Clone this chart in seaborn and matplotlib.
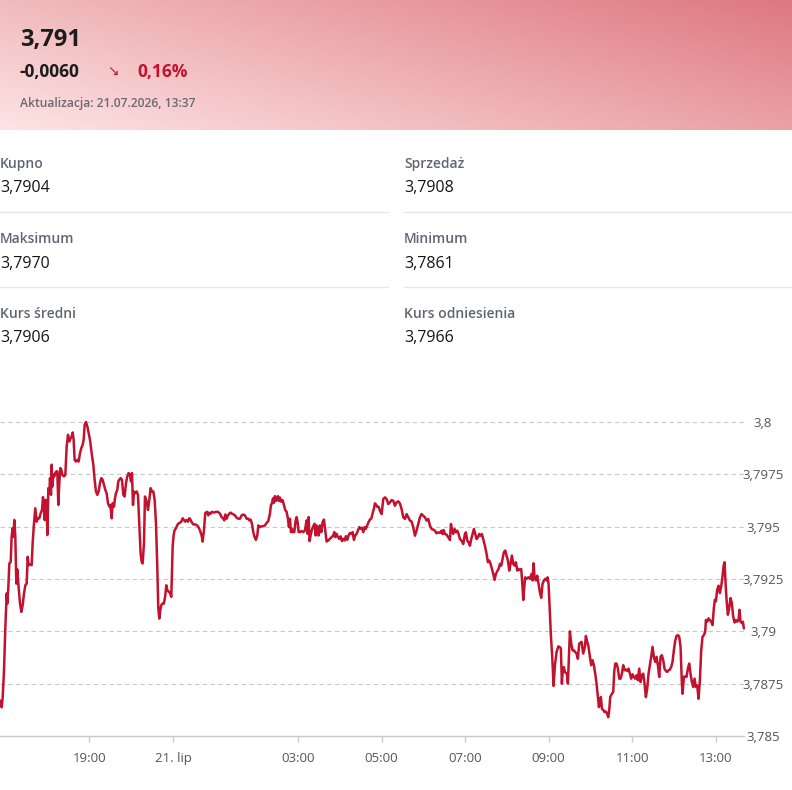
import numpy as np
import matplotlib
matplotlib.use("Agg")
import matplotlib.pyplot as plt
from matplotlib.lines import Line2D
from matplotlib.ticker import FuncFormatter
import seaborn as sns

# chart time axis, in hours on the chart scale (0 = "21. lip")
hours = [
    -4.144, -4.104, -4.080, -4.048, -4.016, -3.984, -3.968, -3.944, -3.920, -3.888, -3.865, -3.841,
    -3.825, -3.801, -3.777, -3.753, -3.729, -3.705, -3.665, -3.633, -3.601, -3.569, -3.537, -3.505,
    -3.481, -3.457, -3.425, -3.386, -3.362, -3.330, -3.298, -3.266, -3.234, -3.202, -3.170, -3.138,
    -3.114, -3.090, -3.074, -3.050, -3.026, -3.010, -2.986, -2.962, -2.946, -2.922, -2.906, -2.890,
    -2.867, -2.843, -2.819, -2.795, -2.771, -2.747, -2.723, -2.699, -2.675, -2.651, -2.611, -2.579,
    -2.547, -2.515, -2.483, -2.451, -2.427, -2.403, -2.380, -2.356, -2.324, -2.292, -2.260, -2.228,
    -2.196, -2.164, -2.140, -2.116, -2.084, -2.052, -2.020, -1.988, -1.948, -1.908, -1.877, -1.845,
    -1.813, -1.781, -1.749, -1.717, -1.685, -1.653, -1.621, -1.589, -1.557, -1.525, -1.501, -1.469,
    -1.445, -1.413, -1.389, -1.366, -1.334, -1.310, -1.286, -1.254, -1.222, -1.190, -1.158, -1.126,
    -1.094, -1.062, -1.030, -1.006, -0.982, -0.958, -0.934, -0.902, -0.870, -0.839, -0.807, -0.775,
    -0.751, -0.727, -0.695, -0.671, -0.631, -0.599, -0.567, -0.535, -0.503, -0.471, -0.439, -0.407,
    -0.376, -0.352, -0.328, -0.304, -0.280, -0.248, -0.216, -0.184, -0.160, -0.136, -0.104, -0.072,
    -0.040, -0.008, 0.016, 0.040, 0.072, 0.104, 0.136, 0.168, 0.199, 0.231, 0.263, 0.295,
    0.327, 0.359, 0.391,
    0.407, 0.447, 0.487, 0.551, 0.599, 0.647, 0.686, 0.710, 0.742, 0.774, 0.822, 0.846,
    0.870, 0.902, 0.934, 0.982, 1.030, 1.078, 1.126, 1.165, 1.205, 1.229, 1.253, 1.285,
    1.317, 1.349, 1.381, 1.413, 1.445, 1.485, 1.525, 1.565, 1.605, 1.645, 1.684, 1.724,
    1.764, 1.804, 1.828, 1.860, 1.892, 1.924, 1.956, 1.988, 2.020, 2.044, 2.084, 2.124,
    2.164, 2.203, 2.243, 2.283, 2.323, 2.347, 2.371, 2.395, 2.419, 2.443, 2.467, 2.491,
    2.515, 2.539, 2.563, 2.595, 2.627, 2.659, 2.690, 2.722, 2.754, 2.778, 2.802, 2.826,
    2.850, 2.874, 2.906, 2.938, 2.962, 2.986, 3.010, 3.042, 3.082, 3.122, 3.161, 3.201,
    3.225, 3.249, 3.273, 3.297, 3.329, 3.361, 3.393, 3.417, 3.441, 3.465, 3.489, 3.521,
    3.553, 3.585, 3.617, 3.648, 3.680, 3.720, 3.760, 3.800, 3.840, 3.864, 3.888, 3.920,
    3.952, 3.984, 4.016, 4.048, 4.080, 4.112, 4.144, 4.175, 4.207, 4.239, 4.271, 4.303,
    4.335, 4.367, 4.399, 4.431, 4.463, 4.495, 4.527, 4.559, 4.591, 4.622, 4.654, 4.686,
    4.718, 4.750, 4.782, 4.814, 4.838, 4.862, 4.894, 4.926,
    4.958, 4.998, 5.038, 5.078, 5.118, 5.158, 5.198, 5.237, 5.277, 5.317, 5.357, 5.397,
    5.437, 5.477, 5.517, 5.557, 5.597, 5.637, 5.677, 5.716, 5.756, 5.796, 5.836, 5.876,
    5.916, 5.956, 5.996, 6.036, 6.076, 6.116, 6.156, 6.195, 6.235, 6.275, 6.315, 6.355,
    6.395, 6.435, 6.459, 6.483, 6.515, 6.555, 6.595, 6.635, 6.659, 6.682, 6.714, 6.746,
    6.778, 6.810, 6.842, 6.874, 6.914, 6.954, 6.994, 7.018, 7.050, 7.082, 7.114, 7.146,
    7.178, 7.210, 7.241, 7.273, 7.305, 7.337, 7.369, 7.401, 7.433, 7.473, 7.513, 7.545,
    7.577, 7.609, 7.641, 7.673, 7.705, 7.736, 7.768, 7.800, 7.832, 7.864, 7.896, 7.928,
    7.960, 7.992, 8.024, 8.056, 8.088, 8.120, 8.152, 8.184, 8.216, 8.247, 8.279, 8.311,
    8.343, 8.375, 8.391, 8.415, 8.439, 8.471, 8.511, 8.551, 8.591, 8.615, 8.639, 8.663,
    8.695, 8.726, 8.758, 8.790, 8.822, 8.854, 8.886, 8.918, 8.950, 8.974, 8.998, 9.030,
    9.054, 9.086, 9.118, 9.150, 9.190, 9.230, 9.269, 9.293, 9.317, 9.341, 9.365, 9.389,
    9.413, 9.437, 9.461, 9.485, 9.509, 9.541, 9.573, 9.605, 9.637, 9.669, 9.700, 9.732,
    9.788, 9.828, 9.868, 9.892, 9.924, 9.956, 9.988, 10.020, 10.052, 10.084, 10.116, 10.148,
    10.180, 10.204, 10.228, 10.252, 10.276, 10.307, 10.339, 10.371, 10.403, 10.427, 10.451, 10.475,
    10.507, 10.547, 10.571, 10.595, 10.627, 10.659, 10.691, 10.723, 10.755, 10.786, 10.818, 10.850,
    10.882, 10.914, 10.946, 10.978, 11.010, 11.042, 11.074, 11.106, 11.138, 11.170, 11.202, 11.234,
    11.266, 11.297, 11.329, 11.361, 11.393, 11.425, 11.457, 11.489, 11.521, 11.553, 11.585, 11.617,
    11.649, 11.681, 11.713, 11.745, 11.776, 11.808, 11.840, 11.872, 11.904, 11.936, 11.968, 12.000,
    12.032, 12.064, 12.096, 12.128, 12.160, 12.192, 12.208, 12.240, 12.271, 12.303, 12.335, 12.367,
    12.399, 12.431, 12.463, 12.495, 12.527, 12.559, 12.591, 12.623, 12.655, 12.687, 12.719, 12.751,
    12.767, 12.798, 12.830, 12.862, 12.894, 12.926, 12.958, 12.982, 13.006, 13.038, 13.070, 13.102,
    13.134, 13.166, 13.190, 13.214, 13.238, 13.262, 13.294, 13.326, 13.357, 13.389, 13.421, 13.453,
    13.485, 13.517, 13.549, 13.573, 13.597, 13.629, 13.653, 13.677,
]

# exchange rate
rate = [
    3.78669, 3.78637, 3.78685, 3.78813, 3.79021, 3.79181, 3.79133, 3.79212, 3.79324, 3.79332, 3.79452, 3.79492,
    3.79452, 3.79532, 3.79452, 3.79228, 3.79296, 3.79228, 3.79133, 3.79093, 3.79125, 3.79181, 3.79220, 3.79228,
    3.79356, 3.79316, 3.79321, 3.79316, 3.79420, 3.79516, 3.79588, 3.79524, 3.79540, 3.79540, 3.79564, 3.79580,
    3.79641, 3.79580, 3.79532, 3.79628, 3.79596, 3.79460, 3.79684, 3.79660, 3.79732, 3.79652, 3.79796, 3.79692,
    3.79748, 3.79740, 3.79756, 3.79764, 3.79764, 3.79604, 3.79708, 3.79780, 3.79772, 3.79748, 3.79740, 3.79748,
    3.79883, 3.79939, 3.79907, 3.79923, 3.79931, 3.79950, 3.79915, 3.79819, 3.79811, 3.79819, 3.79811, 3.79851,
    3.79875, 3.79891, 3.79915, 3.79987, 3.80000, 3.79979, 3.79947, 3.79915, 3.79851, 3.79796, 3.79724, 3.79668,
    3.79652, 3.79668, 3.79708, 3.79732, 3.79724, 3.79700, 3.79676, 3.79660, 3.79612, 3.79596, 3.79604, 3.79540,
    3.79612, 3.79596, 3.79636, 3.79660, 3.79676, 3.79716, 3.79724, 3.79732, 3.79724, 3.79652, 3.79644, 3.79708,
    3.79740, 3.79756, 3.79748, 3.79716, 3.79756, 3.79604, 3.79668, 3.79660, 3.79668, 3.79652, 3.79516, 3.79372,
    3.79332, 3.79324, 3.79420, 3.79644, 3.79620, 3.79580, 3.79628, 3.79684, 3.79668, 3.79668, 3.79628, 3.79516,
    3.79308, 3.79109, 3.79061, 3.79101, 3.79125, 3.79133, 3.79133, 3.79173, 3.79220, 3.79197, 3.79189, 3.79184,
    3.79165, 3.79404, 3.79460, 3.79484, 3.79492, 3.79508, 3.79516, 3.79519, 3.79524, 3.79540, 3.79532, 3.79524,
    3.79532, 3.79524, 3.79540,
    3.79538, 3.79522, 3.79511, 3.79510, 3.79502, 3.79482, 3.79458, 3.79429, 3.79482, 3.79566, 3.79571, 3.79554,
    3.79566, 3.79562, 3.79571, 3.79567, 3.79571, 3.79571, 3.79562, 3.79546, 3.79538, 3.79530, 3.79558, 3.79538,
    3.79554, 3.79562, 3.79567, 3.79562, 3.79559, 3.79554, 3.79543, 3.79538, 3.79538, 3.79554, 3.79558, 3.79554,
    3.79538, 3.79538, 3.79530, 3.79534, 3.79514, 3.79474, 3.79450, 3.79437, 3.79458, 3.79506, 3.79498, 3.79502,
    3.79502, 3.79506, 3.79518, 3.79527, 3.79562, 3.79603, 3.79611, 3.79635, 3.79614, 3.79646, 3.79623, 3.79635,
    3.79646, 3.79623, 3.79639, 3.79619, 3.79627, 3.79603, 3.79579, 3.79571, 3.79538, 3.79498, 3.79538, 3.79474,
    3.79490, 3.79474, 3.79474, 3.79530, 3.79546, 3.79522, 3.79474, 3.79474, 3.79479, 3.79474, 3.79482, 3.79530,
    3.79466, 3.79546, 3.79431, 3.79458, 3.79486, 3.79502, 3.79514, 3.79458, 3.79506, 3.79498, 3.79458, 3.79506,
    3.79474, 3.79522, 3.79534, 3.79482, 3.79429, 3.79434, 3.79442, 3.79450, 3.79458, 3.79474, 3.79450, 3.79466,
    3.79450, 3.79442, 3.79454, 3.79431, 3.79442, 3.79434, 3.79455, 3.79437, 3.79458, 3.79470, 3.79466, 3.79474,
    3.79437, 3.79458, 3.79466, 3.79482, 3.79498, 3.79490, 3.79495, 3.79474, 3.79498, 3.79490, 3.79506, 3.79522,
    3.79534, 3.79538, 3.79562, 3.79587, 3.79611, 3.79606, 3.79595, 3.79595,
    3.79576, 3.79560, 3.79632, 3.79640, 3.79632, 3.79608, 3.79616, 3.79627, 3.79624, 3.79600, 3.79616, 3.79621,
    3.79611, 3.79584, 3.79545, 3.79537, 3.79560, 3.79545, 3.79529, 3.79525, 3.79497, 3.79457, 3.79481, 3.79513,
    3.79545, 3.79560, 3.79552, 3.79545, 3.79529, 3.79537, 3.79505, 3.79489, 3.79486, 3.79481, 3.79468, 3.79473,
    3.79470, 3.79481, 3.79465, 3.79484, 3.79465, 3.79462, 3.79449, 3.79436, 3.79513, 3.79489, 3.79465, 3.79489,
    3.79473, 3.79481, 3.79465, 3.79441, 3.79433, 3.79417, 3.79465, 3.79473, 3.79433, 3.79425, 3.79409, 3.79441,
    3.79465, 3.79489, 3.79465, 3.79441, 3.79449, 3.79465, 3.79457, 3.79465, 3.79441, 3.79409, 3.79370, 3.79330,
    3.79338, 3.79322, 3.79298, 3.79274, 3.79246, 3.79274, 3.79287, 3.79298, 3.79322, 3.79314, 3.79346, 3.79378,
    3.79386, 3.79362, 3.79338, 3.79290, 3.79322, 3.79362, 3.79322, 3.79314, 3.79330, 3.79290, 3.79298, 3.79293,
    3.79298, 3.79211, 3.79150, 3.79211, 3.79258, 3.79251, 3.79258, 3.79251, 3.79274, 3.79243, 3.79325, 3.79258,
    3.79243, 3.79266, 3.79227, 3.79187, 3.79160, 3.79227, 3.79243, 3.79251, 3.79243, 3.79258, 3.79227, 3.79084,
    3.78980, 3.78877, 3.78739, 3.78837, 3.78901, 3.78928, 3.78925, 3.78917, 3.78750, 3.78822, 3.78829, 3.78806,
    3.78801, 3.78798, 3.78750, 3.78877, 3.79000, 3.78941, 3.78909, 3.78909, 3.78901, 3.78893, 3.78869, 3.78941,
    3.78950, 3.78894, 3.78926, 3.78978, 3.78950, 3.78926, 3.78878, 3.78838, 3.78862, 3.78838, 3.78798, 3.78750,
    3.78686, 3.78638, 3.78670, 3.78686, 3.78630, 3.78625, 3.78614, 3.78617, 3.78606, 3.78590, 3.78622, 3.78686,
    3.78699, 3.78710, 3.78806, 3.78846, 3.78846, 3.78822, 3.78774, 3.78774, 3.78798, 3.78838, 3.78814, 3.78817,
    3.78811, 3.78822, 3.78798, 3.78774, 3.78795, 3.78782, 3.78774, 3.78790, 3.78766, 3.78822, 3.78758, 3.78790,
    3.78798, 3.78750, 3.78686, 3.78726, 3.78798, 3.78838, 3.78878, 3.78926, 3.78878, 3.78854, 3.78878, 3.78838,
    3.78782, 3.78878, 3.78886, 3.78862, 3.78822, 3.78811, 3.78806, 3.78814, 3.78817, 3.78830, 3.78854, 3.78910,
    3.78955, 3.78978, 3.78982, 3.78974, 3.78926, 3.78750, 3.78702, 3.78782, 3.78785, 3.78782, 3.78822, 3.78846,
    3.78798, 3.78758, 3.78734, 3.78774, 3.78734, 3.78742, 3.78678, 3.78766, 3.78910, 3.78974, 3.78982, 3.78998,
    3.79054, 3.79046, 3.79062, 3.79054, 3.79046, 3.79030, 3.79111, 3.79151, 3.79143, 3.79199, 3.79218, 3.79183,
    3.79215, 3.79263, 3.79311, 3.79330, 3.79231, 3.79151, 3.79079, 3.79111, 3.79159, 3.79135, 3.79071, 3.79042,
    3.79054, 3.79046, 3.79054, 3.79103, 3.79046, 3.79039, 3.79046, 3.79014,
]

x_tick_pos = [-2, 0, 3, 5, 7, 9, 11, 13]
x_tick_labels = ['19:00', '21. lip', '03:00', '05:00', '07:00', '09:00', '11:00', '13:00']
y_ticks = [3.785, 3.7875, 3.79, 3.7925, 3.795, 3.7975, 3.8]

last_rate = '3,791'
change_abs = '-0,0060'
change_pct = '0,16%'
updated = 'Aktualizacja: 21.07.2026, 13:37'
stat_labels = ['Kupno', 'Sprzedaż', 'Maksimum', 'Minimum', 'Kurs średni', 'Kurs odniesienia']
stat_values = ['3,7904', '3,7908', '3,7970', '3,7861', '3,7906', '3,7966']

RED = '#c2122f'
W, H = 792, 790

sns.set_theme(style='white')
plt.rcParams['font.family'] = ['Open Sans', 'DejaVu Sans']

fig = plt.figure(figsize=(W / 100, H / 100), dpi=100)
fig.patch.set_facecolor('white')


def fpos(x, y):
    # pixel position -> figure fraction
    return x / W, 1 - y / H


# pink gradient header
hdr = fig.add_axes([0, 1 - 130 / H, 1, 130 / H])
gx, gy = np.meshgrid(np.linspace(0, 1, 400), np.linspace(0, 1, 80))
t = 0.62 * gx + 0.38 * (1 - gy)
light = np.array([253, 228, 228]) / 255
dark = np.array([222, 120, 128]) / 255
hdr.imshow(light + t[..., None] * (dark - light), aspect='auto', extent=[0, 1, 0, 1])
hdr.axis('off')

fig.text(*fpos(20, 46), last_rate, fontsize=17, fontweight='bold', color='#1c1c1c', va='baseline')
fig.text(*fpos(20, 77), change_abs, fontsize=12.5, fontweight='bold', color='#1c1c1c', va='baseline')
fig.text(*fpos(113, 71), '↘', fontsize=10, color=RED, ha='center', va='center',
         family=['DejaVu Sans'])
fig.text(*fpos(137, 77), change_pct, fontsize=12.5, fontweight='bold', color=RED, va='baseline')
fig.text(*fpos(20, 106.5), updated, fontsize=8.7, fontweight='semibold', color='#6a6a70', va='baseline')

# stats table
col_x = [0, 404]
for i, (lab, val) in enumerate(zip(stat_labels, stat_values)):
    row, col = divmod(i, 2)
    fig.text(*fpos(col_x[col], 168 + 75 * row), lab, fontsize=10, fontweight='semibold',
             color='#5f6672', va='baseline')
    fig.text(*fpos(col_x[col], 192.5 + 75 * row), val, fontsize=11.5, color='#161616', va='baseline')
for ysep in [212, 287]:
    fig.add_artist(Line2D([0, 388 / W], [1 - ysep / H] * 2, color='#e6e6e6', lw=1))
    fig.add_artist(Line2D([404 / W, 1], [1 - ysep / H] * 2, color='#e6e6e6', lw=1))

# rate chart
ax = fig.add_axes([0, 1 - 736 / H, 744 / W, 314 / H])
sns.lineplot(x=hours, y=rate, ax=ax, color=RED, linewidth=1.8, sort=False, estimator=None)
ax.lines[0].set_clip_on(False)
ax.set_xlim(-4.144, 13.68)
ax.set_ylim(3.785, 3.8)
ax.set_facecolor('none')
ax.set_xlabel('')
ax.set_ylabel('')

ax.set_yticks(y_ticks)
ax.yaxis.set_major_formatter(FuncFormatter(lambda v, _: f"{round(v, 4):g}".replace('.', ',')))
ax.yaxis.tick_right()
ax.tick_params(axis='y', length=0, pad=13.7, labelsize=9.5, labelcolor='#555555')
for tk in ax.yaxis.get_major_ticks():
    tk.label2.set_horizontalalignment('center')

ax.set_xticks(x_tick_pos, x_tick_labels)
ax.tick_params(axis='x', bottom=True, length=4.3, width=1, color='#cccccc', pad=7,
               labelsize=9.5, labelcolor='#555555')

ax.grid(axis='y', color='#c8c8c8', linestyle=(0, (4, 3)), linewidth=0.8)
ax.grid(axis='x', visible=False)
for s in ['top', 'left', 'right']:
    ax.spines[s].set_visible(False)
ax.spines['bottom'].set_color('#c8c8c8')
ax.spines['bottom'].set_linewidth(1)

fig.savefig('out.png', dpi=100, facecolor='white')
